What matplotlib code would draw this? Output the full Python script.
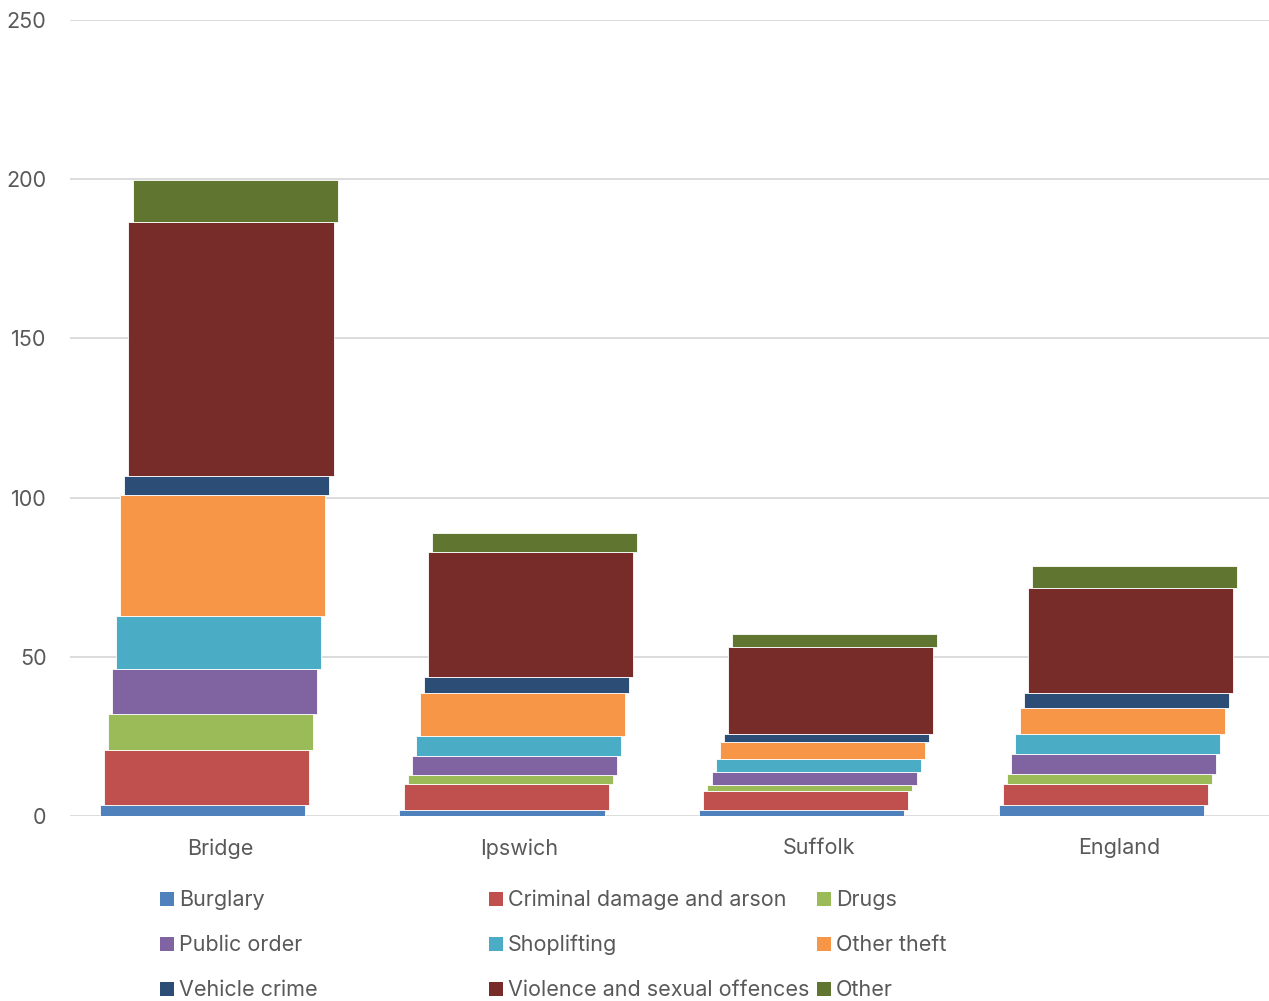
import numpy as np
import matplotlib.pyplot as plt
from matplotlib.patches import Rectangle

plt.rcParams['font.family'] = ['Inter', 'DejaVu Sans']

# data
areas = ['Bridge', 'Ipswich', 'Suffolk', 'England']
crimes = ['Burglary', 'Criminal damage and arson', 'Drugs', 'Public order',
          'Shoplifting', 'Other theft', 'Vehicle crime',
          'Violence and sexual offences', 'Other']
burglary = [3.3, 1.9, 2.0, 3.3]
criminal_damage = [17.3, 8.0, 5.9, 6.8]
drugs = [11.4, 2.9, 1.8, 3.2]
public_order = [14.1, 6.1, 4.2, 6.3]
shoplifting = [16.7, 6.1, 4.1, 6.3]
other_theft = [38.0, 13.5, 5.1, 7.9]
vehicle_crime = [6.0, 5.0, 2.6, 4.9]
violence = [79.9, 39.5, 27.4, 32.9]
other = [13.2, 6.0, 4.1, 6.9]

series = [burglary, criminal_damage, drugs, public_order, shoplifting,
          other_theft, vehicle_crime, violence, other]
colours = ['#4F81BD', '#C0504D', '#9BBB59', '#8064A2', '#4BACC6',
           '#F79646', '#2C4D75', '#772C2A', '#5F7530']

text_col = '#595959'

fig = plt.figure(figsize=(12.69, 10.01), dpi=100)
ax = fig.add_axes([70 / 1269, 1 - 816 / 1001, 1199 / 1269, 796 / 1001])

x = np.arange(len(areas))
width = 0.684
step = 0.0137
bottom = np.zeros(len(areas))
for i, (vals, col) in enumerate(zip(series, colours)):
    ax.bar(x + (i - 4) * step - 0.004, vals, width, bottom=bottom, color=col,
           edgecolor='white', linewidth=0.6, zorder=3)
    bottom += np.array(vals)

ax.set_xlim(-0.5, 3.5)
ax.set_ylim(0, 250)
ax.set_yticks(range(0, 251, 50))
ax.set_xticks(x)
ax.set_xticklabels(areas)
ax.yaxis.grid(True, color='#D9D9D9', linewidth=1.3, zorder=0)
ax.set_axisbelow(True)
for s in ax.spines.values():
    s.set_visible(False)
ax.tick_params(axis='both', length=0, labelsize=15.5, colors=text_col)
ax.tick_params(axis='y', pad=17)
ax.tick_params(axis='x', pad=16)

# legend laid out like the original: three equal columns
col_x = [160, 489, 817]
row_y = [900, 945, 990]
for i, (name, col) in enumerate(zip(crimes, colours)):
    px = col_x[i % 3]
    py = row_y[i // 3]
    fig.patches.append(Rectangle((px / 1269, 1 - (py + 6) / 1001), 14 / 1269, 14 / 1001,
                                 transform=fig.transFigure, facecolor=col,
                                 edgecolor='none'))
    fig.text((px + 19) / 1269, 1 - py / 1001, name, fontsize=15.5,
             color=text_col, va='center', ha='left')

fig.savefig('out.png', dpi=100)
